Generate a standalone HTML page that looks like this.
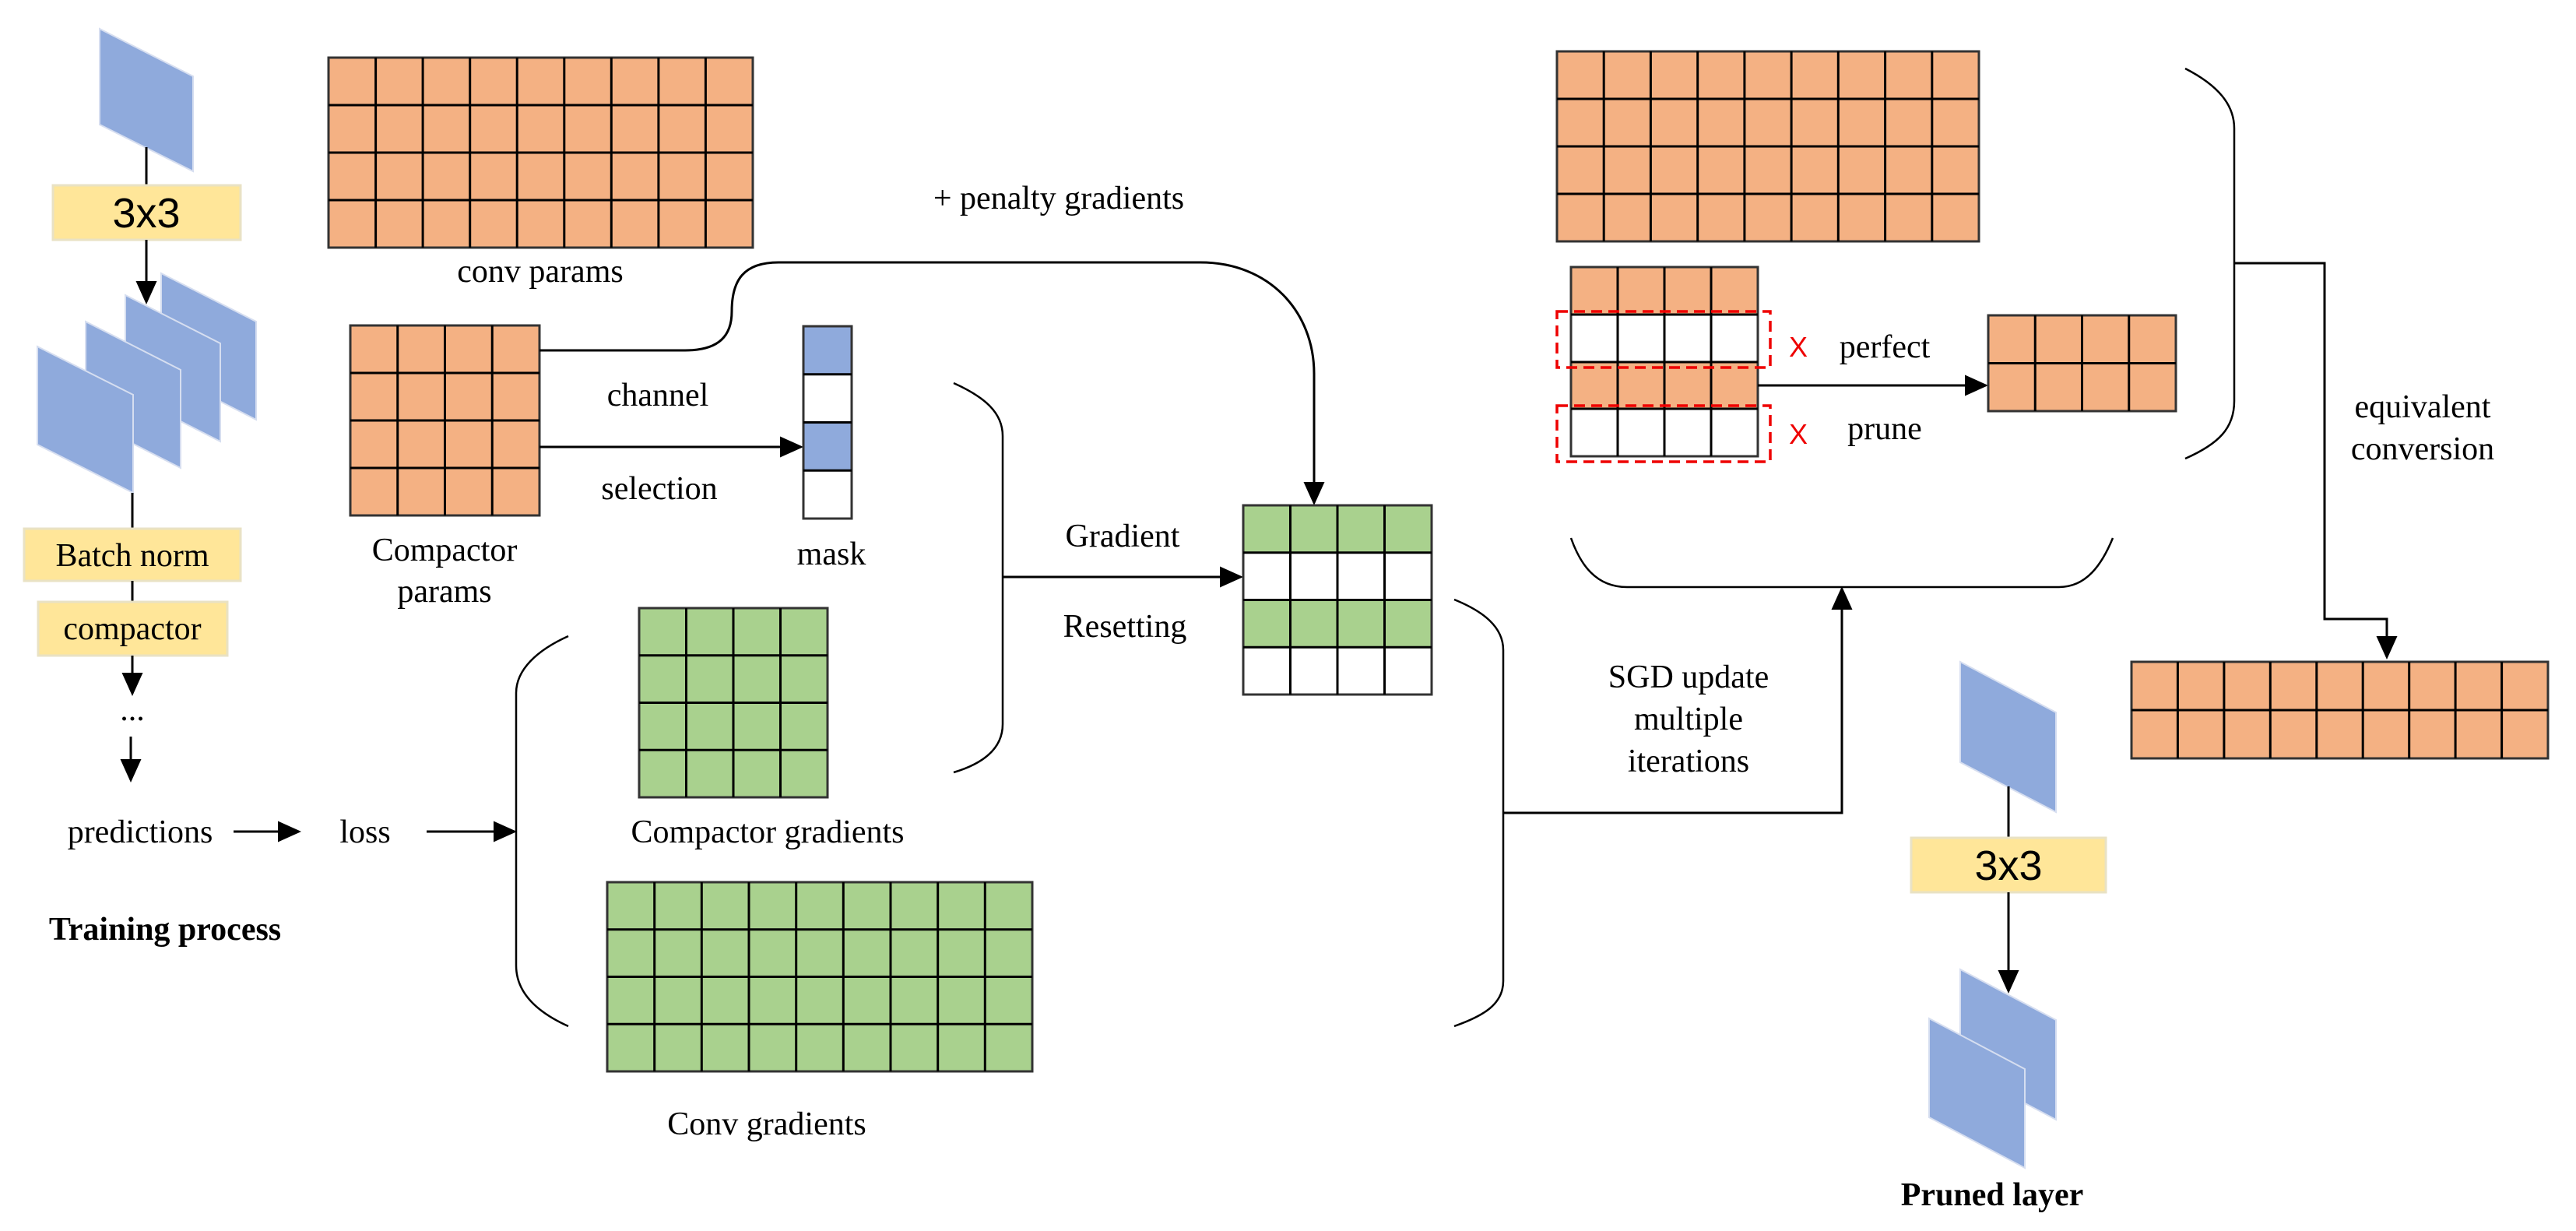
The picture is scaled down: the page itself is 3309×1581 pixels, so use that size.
<!DOCTYPE html>
<html><head><meta charset="utf-8"><style>
html,body{margin:0;padding:0;background:#fff;}
svg{display:block;}
text{font-family:"Liberation Serif",serif;font-size:42px;fill:#000;}
.sans{font-family:"Liberation Sans",sans-serif;font-size:54px;}
.b{font-weight:bold;}
.gl{stroke:#000;stroke-width:3;fill:none;}
.ln{stroke:#000;stroke-width:3;fill:none;}
.br{stroke:#000;stroke-width:2.5;fill:none;}
.pb{fill:#8FAADC;stroke:#d6def0;stroke-width:2;}
</style></head><body>
<svg width="3309" height="1581" viewBox="0 0 3309 1581" xmlns="http://www.w3.org/2000/svg">
<defs>
<marker id="ah" markerWidth="10" markerHeight="9" refX="9" refY="4.5" orient="auto" markerUnits="strokeWidth"><path d="M0,0 L10,4.5 L0,9 Z" fill="#000"/></marker>
</defs>

<!-- LEFT COLUMN -->
<polygon class="pb" points="128,37 248,98 248,220 128,160"/>
<line class="ln" x1="188" y1="189" x2="188" y2="238"/>
<rect x="68" y="238" width="241" height="70" fill="#FFE699" stroke="#e9e2c4" stroke-width="3"/>
<text class="sans" x="188" y="292" text-anchor="middle">3x3</text>
<line class="ln" x1="188" y1="308" x2="188" y2="388" marker-end="url(#ah)"/>
<polygon class="pb" points="207,351 329,413 329,539 207,477"/>
<polygon class="pb" points="161,379 283,441 283,567 161,505"/>
<polygon class="pb" points="110,413 232,475 232,601 110,539"/>
<polygon class="pb" points="48,445 171,507 171,633 48,571"/>
<line class="ln" x1="170" y1="633" x2="170" y2="679"/>
<rect x="31" y="679" width="278" height="67" fill="#FFE699" stroke="#e9e2c4" stroke-width="3"/>
<text x="170" y="727" text-anchor="middle">Batch norm</text>
<line class="ln" x1="170" y1="746" x2="170" y2="773"/>
<rect x="49" y="773" width="243" height="69" fill="#FFE699" stroke="#e9e2c4" stroke-width="3"/>
<text x="170" y="821" text-anchor="middle">compactor</text>
<line class="ln" x1="170" y1="842" x2="170" y2="891" marker-end="url(#ah)"/>
<text x="170" y="925" text-anchor="middle">...</text>
<line class="ln" x1="168" y1="946" x2="168" y2="1002" marker-end="url(#ah)"/>
<text x="180" y="1082" text-anchor="middle">predictions</text>
<line class="ln" x1="300" y1="1068" x2="384" y2="1068" marker-end="url(#ah)"/>
<text x="469" y="1082" text-anchor="middle">loss</text>
<line class="ln" x1="548" y1="1068" x2="661" y2="1068" marker-end="url(#ah)"/>
<text class="b" x="212" y="1207" text-anchor="middle">Training process</text>

<!-- conv params -->
<rect x="422" y="74" width="545" height="244" fill="#F4B183" stroke="#333" stroke-width="3"/>
<path class="gl" d="M482.6,74V318M543.1,74V318M603.7,74V318M664.2,74V318M724.8,74V318M785.3,74V318M845.9,74V318M906.4,74V318M422,135H967M422,196H967M422,257H967"/>
<text x="694" y="362" text-anchor="middle">conv params</text>

<!-- compactor params -->
<rect x="450" y="418" width="243" height="244" fill="#F4B183" stroke="#333" stroke-width="3"/>
<path class="gl" d="M510.75,418V662M571.5,418V662M632.25,418V662M450,479H693M450,540H693M450,601H693"/>
<text x="571" y="720" text-anchor="middle">Compactor</text>
<text x="571" y="773" text-anchor="middle">params</text>

<!-- penalty curve -->
<path class="ln" d="M693,450 H880 C925,450 940,430 940,400 C940,360 955,337 1000,337 H1542 C1630,337 1688,400 1688,480 V646" marker-end="url(#ah)"/>
<text x="1360" y="268" text-anchor="middle">+ penalty gradients</text>

<text x="845" y="521" text-anchor="middle">channel</text>
<line class="ln" x1="693" y1="574" x2="1029" y2="574" marker-end="url(#ah)"/>
<text x="847" y="641" text-anchor="middle">selection</text>

<!-- mask -->
<rect x="1032" y="419" width="62" height="247" fill="#fff" stroke="#333" stroke-width="3"/>
<rect x="1032" y="419" width="62" height="61.75" fill="#8FAADC"/>
<rect x="1032" y="542.5" width="62" height="61.75" fill="#8FAADC"/>
<rect x="1032" y="419" width="62" height="247" fill="none" stroke="#333" stroke-width="3"/>
<path class="gl" d="M1032,480.75H1094M1032,542.5H1094M1032,604.25H1094"/>
<text x="1068" y="725" text-anchor="middle">mask</text>

<!-- brace left big -->
<path class="br" d="M730,817 C690,835 663,860 663,890 V1240 C663,1275 690,1300 730,1318"/>

<!-- compactor gradients -->
<rect x="821" y="781" width="242" height="243" fill="#A9D18E" stroke="#333" stroke-width="3"/>
<path class="gl" d="M881.5,781V1024M942,781V1024M1002.5,781V1024M821,841.75H1063M821,902.5H1063M821,963.25H1063"/>
<text x="986" y="1082" text-anchor="middle">Compactor gradients</text>

<!-- conv gradients -->
<rect x="780" y="1133" width="546" height="243" fill="#A9D18E" stroke="#333" stroke-width="3"/>
<path class="gl" d="M840.7,1133V1376M901.3,1133V1376M962,1133V1376M1022.7,1133V1376M1083.3,1133V1376M1144,1133V1376M1204.7,1133V1376M1265.3,1133V1376M780,1193.75H1326M780,1254.5H1326M780,1315.25H1326"/>
<text x="985" y="1457" text-anchor="middle">Conv gradients</text>

<!-- mask brace + gradient resetting -->
<path class="br" d="M1225,492 C1265,510 1288,530 1288,560 V930 C1288,960 1265,980 1225,992"/>
<line class="ln" x1="1288" y1="741" x2="1594" y2="741" marker-end="url(#ah)"/>
<text x="1442" y="702" text-anchor="middle">Gradient</text>
<text x="1445" y="818" text-anchor="middle">Resetting</text>

<rect x="1597" y="649" width="242" height="243" fill="#fff" stroke="#333" stroke-width="3"/>
<rect x="1597" y="649" width="242" height="60.75" fill="#A9D18E"/>
<rect x="1597" y="770.5" width="242" height="60.75" fill="#A9D18E"/>
<rect x="1597" y="649" width="242" height="243" fill="none" stroke="#333" stroke-width="3"/>
<path class="gl" d="M1657.5,649V892M1718,649V892M1778.5,649V892M1597,709.75H1839M1597,770.5H1839M1597,831.25H1839"/>

<!-- reset brace & SGD -->
<path class="br" d="M1868,770 C1905,785 1931,805 1931,835 V1260 C1931,1290 1905,1305 1868,1318"/>
<path class="ln" d="M1931,1044 H2366 V756" marker-end="url(#ah)"/>
<text x="2169" y="883" text-anchor="middle">SGD update</text>
<text x="2169" y="937" text-anchor="middle">multiple</text>
<text x="2169" y="991" text-anchor="middle">iterations</text>

<!-- top right grid -->
<rect x="2000" y="66" width="542" height="244" fill="#F4B183" stroke="#333" stroke-width="3"/>
<path class="gl" d="M2060.2,66V310M2120.4,66V310M2180.7,66V310M2240.9,66V310M2301.1,66V310M2361.3,66V310M2421.6,66V310M2481.8,66V310M2000,127H2542M2000,188H2542M2000,249H2542"/>

<!-- pruned grid -->
<rect x="2018" y="343" width="240" height="243" fill="#fff" stroke="#333" stroke-width="3"/>
<rect x="2018" y="343" width="240" height="61" fill="#F4B183"/>
<rect x="2018" y="465" width="240" height="60" fill="#F4B183"/>
<rect x="2018" y="343" width="240" height="243" fill="none" stroke="#333" stroke-width="3"/>
<path class="gl" d="M2078,343V586M2138,343V586M2198,343V586M2018,404H2258M2018,465H2258M2018,525H2258"/>
<rect x="2000" y="400" width="274" height="72" fill="none" stroke="#e00" stroke-width="3.5" stroke-dasharray="14,8"/>
<rect x="2000" y="521" width="274" height="72" fill="none" stroke="#e00" stroke-width="3.5" stroke-dasharray="14,8"/>
<text x="2310" y="458" text-anchor="middle" style="font-family:'Liberation Sans',sans-serif;fill:#e00;font-size:36px">X</text>
<text x="2310" y="570" text-anchor="middle" style="font-family:'Liberation Sans',sans-serif;fill:#e00;font-size:36px">X</text>
<text x="2421" y="459" text-anchor="middle">perfect</text>
<text x="2421" y="564" text-anchor="middle">prune</text>
<line class="ln" x1="2258" y1="495" x2="2551" y2="495" marker-end="url(#ah)"/>

<!-- small grid -->
<rect x="2554" y="405" width="241" height="123" fill="#F4B183" stroke="#333" stroke-width="3"/>
<path class="gl" d="M2614.25,405V528M2674.5,405V528M2734.75,405V528M2554,466.5H2795"/>

<!-- top right brace -->
<path class="br" d="M2807,88 C2850,110 2870,135 2870,165 V515 C2870,550 2850,570 2807,589"/>
<path class="ln" d="M2870,338 H2986 V795 H3066 V844" marker-end="url(#ah)"/>
<text x="3112" y="536" text-anchor="middle">equivalent</text>
<text x="3112" y="590" text-anchor="middle">conversion</text>

<!-- bottom brace -->
<path class="br" d="M2018,691 C2030,725 2050,754 2090,754 H2645 C2680,754 2700,725 2714,691"/>

<!-- bottom right grid -->
<rect x="2738" y="850" width="535" height="124" fill="#F4B183" stroke="#333" stroke-width="3"/>
<path class="gl" d="M2797.4,850V974M2856.9,850V974M2916.3,850V974M2975.8,850V974M3035.2,850V974M3094.7,850V974M3154.1,850V974M3213.6,850V974M2738,912H3273"/>

<!-- pruned layer -->
<polygon class="pb" points="2518,850 2641,915 2641,1043 2518,979"/>
<line class="ln" x1="2580" y1="1010" x2="2580" y2="1076"/>
<rect x="2455" y="1076" width="250" height="70" fill="#FFE699" stroke="#e9e2c4" stroke-width="3"/>
<text class="sans" x="2580" y="1130" text-anchor="middle">3x3</text>
<line class="ln" x1="2580" y1="1146" x2="2580" y2="1273" marker-end="url(#ah)"/>
<polygon class="pb" points="2518,1245 2641,1310 2641,1438 2518,1373"/>
<polygon class="pb" points="2478,1308 2601,1373 2601,1500 2478,1435"/>
<text class="b" x="2559" y="1548" text-anchor="middle">Pruned layer</text>
</svg>
</body></html>
